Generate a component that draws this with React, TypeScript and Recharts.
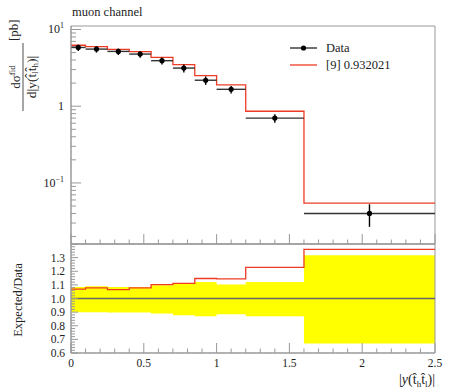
import React from "react";
import {
  Area,
  ComposedChart,
  ErrorBar,
  Line,
  ReferenceArea,
  ReferenceLine,
  Scatter,
  XAxis,
  YAxis,
} from "recharts";

// bins of |y(t_h t_l)|
const binEdges = [0, 0.1, 0.25, 0.4, 0.55, 0.7, 0.85, 1.0, 1.2, 1.6, 2.5];
const dataValues = [5.83, 5.55, 5.18, 4.78, 3.92, 3.14, 2.18, 1.66, 0.7, 0.04];
const predValues = [6.23, 5.98, 5.52, 5.15, 4.32, 3.49, 2.5, 1.9, 0.86, 0.0544];
const relErrDown = [0.1, 0.1, 0.103, 0.103, 0.11, 0.123, 0.13, 0.115, 0.13, 0.33];
const relErrUp = [0.085, 0.09, 0.085, 0.085, 0.098, 0.11, 0.122, 0.103, 0.122, 0.318];

const xMajorTicks = [0, 0.5, 1, 1.5, 2, 2.5];
const xTickLabels = ["0", "0.5", "1", "1.5", "2", "2.5"];
const logMajorTicks = [0.1, 1, 10];
const logMinorTicks = [
  0.02, 0.03, 0.04, 0.05, 0.06, 0.07, 0.08, 0.09,
  0.2, 0.3, 0.4, 0.5, 0.6, 0.7, 0.8, 0.9,
  2, 3, 4, 5, 6, 7, 8, 9,
];
const ratioMajorTicks = [0.6, 0.7, 0.8, 0.9, 1.0, 1.1, 1.2, 1.3];
const ratioTickLabels = ["0.6", "0.7", "0.8", "0.9", "1.0", "1.1", "1.2", "1.3"];
const legendLabels = ["Data", "[9] 0.932021"];

const RED = "#ef3b24";
const FRAME = "#999";
const FONT = "'Liberation Serif', 'DejaVu Serif', serif";
const INK = "#222";

const topDomain: [number, number] = [0.016, 11.1];
const ratioDomain: [number, number] = [0.6, 1.4];
const xDomain: [number, number] = [0, 2.5];

// plot geometry used only to turn tick lengths (px) into data units
const PLOT_W = 364;
const PLOT_H = 218;
const xPerPx = (xDomain[1] - xDomain[0]) / PLOT_W;
const decadesPerPx = Math.log10(topDomain[1] / topDomain[0]) / PLOT_H;

const xTicks: number[] = [];
for (let i = 0; i <= 25; i++) xTicks.push(Math.round(i * 10) / 100);
const xMinorTicks = xTicks.filter((t) => !xMajorTicks.some((m) => Math.abs(m - t) < 1e-6));
const ratioTicks: number[] = [];
for (let i = 0; i <= 40; i++) ratioTicks.push(+(0.6 + i * 0.02).toFixed(2));

const predRows = binEdges.map((x, i) => ({ x, pred: predValues[Math.min(i, predValues.length - 1)] }));

const pointRows = dataValues.map((v, i) => {
  const lo = binEdges[i];
  const hi = binEdges[i + 1];
  const c = (lo + hi) / 2;
  return {
    x: c,
    y: v,
    ex: [c - lo, hi - c],
    ey: [v * relErrDown[i], v * relErrUp[i]],
  };
});

const ratioRows = binEdges.map((x, i) => {
  const k = Math.min(i, dataValues.length - 1);
  return {
    x,
    band: [1 - relErrDown[k], 1 + relErrUp[k]],
    ratio: predValues[k] / dataValues[k],
    one: 1,
  };
});

const near = (a: number, b: number) => Math.abs(a - b) < 1e-6;
const textStyle = { fontFamily: FONT };

function BottomTick(props: any) {
  const { x, y, payload } = props;
  const v = payload.value;
  const idx = xMajorTicks.findIndex((m) => near(m, v));
  const major = idx >= 0;
  return (
    <g>
      <line x1={x} x2={x} y1={y} y2={y - (major ? 10 : 4.5)} stroke={FRAME} strokeWidth={1} />
      {major ? (
        <text x={x} y={y + 14} textAnchor="middle" fontSize={11.5} style={textStyle} fill={INK}>
          {xTickLabels[idx]}
        </text>
      ) : null}
    </g>
  );
}

function LogLabel(props: any) {
  const { x, y, payload } = props;
  const v = payload.value;
  let label: React.ReactNode;
  if (near(v, 1)) label = "1";
  else if (near(v, 10))
    label = (
      <>
        10<tspan dy={-5} fontSize={8}>1</tspan>
      </>
    );
  else
    label = (
      <>
        10<tspan dy={-5} fontSize={8}>−1</tspan>
      </>
    );
  return (
    <text x={x - 7} y={y + 4} textAnchor="end" fontSize={12} style={textStyle} fill={INK}>
      {label}
    </text>
  );
}

function RatioTick(props: any) {
  const { x, y, payload } = props;
  const v = payload.value;
  const idx = ratioMajorTicks.findIndex((m) => near(m, v));
  const major = idx >= 0 || near(v, 1.4);
  return (
    <g>
      <line x1={x} x2={x + (major ? 7 : 4)} y1={y} y2={y} stroke={FRAME} strokeWidth={1} />
      {idx >= 0 ? (
        <text x={x - 6} y={y + 4} textAnchor="end" fontSize={11.5} style={textStyle} fill={INK}>
          {ratioTickLabels[idx]}
        </text>
      ) : null}
    </g>
  );
}

const DataDot = (props: any) => <circle cx={props.cx} cy={props.cy} r={2.6} fill="#000" />;

const topMargin = { top: 26, right: 15, left: 0, bottom: 0 };
const layer: React.CSSProperties = { position: "absolute", left: 0, top: 0 };

// tick marks of the main panel, drawn inward through the chart scales
function yTickSeg(v: number, px: number) {
  return [
    { x: xDomain[0], y: v },
    { x: xDomain[0] + px * xPerPx, y: v },
  ];
}
function xTickSeg(t: number, px: number) {
  return [
    { x: t, y: topDomain[0] },
    { x: t, y: topDomain[0] * Math.pow(10, px * decadesPerPx) },
  ];
}

export default function App() {
  return (
    <div style={{ position: "absolute", left: 0, top: 0, width: 450, height: 390, background: "#fff", fontFamily: FONT }}>
      {/* ratio panel */}
      <div style={{ position: "absolute", left: 0, top: 240 }}>
        <ComposedChart width={450} height={150} data={ratioRows} margin={{ top: 4, right: 15, left: 0, bottom: 0 }}>
          <XAxis
            type="number"
            dataKey="x"
            domain={xDomain}
            ticks={xTicks}
            interval={0}
            height={37}
            tickSize={0}
            tickMargin={0}
            tickLine={false}
            axisLine={{ stroke: FRAME }}
            tick={<BottomTick />}
            allowDataOverflow
          />
          <YAxis
            type="number"
            domain={ratioDomain}
            ticks={ratioTicks}
            interval={0}
            width={71}
            tickSize={0}
            tickMargin={0}
            tickLine={false}
            axisLine={{ stroke: FRAME }}
            tick={<RatioTick />}
            allowDataOverflow
          />
          <Area dataKey="band" type="stepAfter" fill="#ffff00" fillOpacity={1} stroke="none" isAnimationActive={false} />
          <Line dataKey="one" type="linear" stroke="#666" strokeWidth={1.3} dot={false} isAnimationActive={false} />
          <Line dataKey="ratio" type="stepAfter" stroke={RED} strokeWidth={1.3} dot={false} isAnimationActive={false} />
          <ReferenceArea x1={0} x2={2.5} y1={ratioDomain[0]} y2={ratioDomain[1]} fill="none" stroke={FRAME} strokeWidth={1} ifOverflow="visible" />
        </ComposedChart>
      </div>

      {/* main panel */}
      <div style={layer}>
        <ComposedChart width={450} height={250} data={predRows} margin={topMargin}>
          <XAxis
            type="number"
            dataKey="x"
            domain={xDomain}
            height={6}
            tick={false}
            tickLine={false}
            axisLine={{ stroke: FRAME }}
            allowDataOverflow
          />
          <YAxis
            type="number"
            scale="log"
            domain={topDomain}
            ticks={logMajorTicks}
            interval={0}
            width={71}
            tickSize={0}
            tickMargin={0}
            tickLine={false}
            axisLine={{ stroke: FRAME }}
            tick={<LogLabel />}
            allowDataOverflow
          />
          {logMinorTicks.map((v) => (
            <ReferenceLine key={`ym${v}`} segment={yTickSeg(v, 5)} stroke={FRAME} strokeWidth={1} ifOverflow="visible" />
          ))}
          {logMajorTicks.map((v) => (
            <ReferenceLine key={`yM${v}`} segment={yTickSeg(v, 10)} stroke={FRAME} strokeWidth={1} ifOverflow="visible" />
          ))}
          {xMinorTicks.map((t) => (
            <ReferenceLine key={`xm${t}`} segment={xTickSeg(t, 4.5)} stroke={FRAME} strokeWidth={1} ifOverflow="visible" />
          ))}
          {xMajorTicks.map((t) => (
            <ReferenceLine key={`xM${t}`} segment={xTickSeg(t, 10)} stroke={FRAME} strokeWidth={1} ifOverflow="visible" />
          ))}
          <Line dataKey="pred" type="stepAfter" stroke={RED} strokeWidth={1.3} dot={false} isAnimationActive={false} />
          <Scatter data={pointRows} dataKey="y" shape={<DataDot />} isAnimationActive={false}>
            <ErrorBar dataKey="ex" direction="x" width={0} stroke="#333" strokeWidth={1.4} isAnimationActive={false} />
            <ErrorBar dataKey="ey" direction="y" width={0} stroke="#000" strokeWidth={1.4} isAnimationActive={false} />
          </Scatter>
          <ReferenceArea x1={0} x2={2.5} y1={topDomain[0]} y2={topDomain[1]} fill="none" stroke={FRAME} strokeWidth={1} ifOverflow="visible" />
        </ComposedChart>
      </div>

      <svg width={450} height={390} style={{ position: "absolute", left: 0, top: 0, pointerEvents: "none", fontFamily: FONT }}>
        <text x={72} y={16} fontSize={12.5} fill={INK}>
          muon channel
        </text>

        {/* legend */}
        <g>
          <line x1={290} x2={317} y1={48} y2={48} stroke={INK} strokeWidth={1.3} />
          <circle cx={303.5} cy={48} r={2.6} fill="#000" />
          <text x={326} y={52} fontSize={12.5} fill={INK}>
            {legendLabels[0]}
          </text>
          <line x1={290} x2={317} y1={65} y2={65} stroke={RED} strokeWidth={1.3} />
          <text x={326} y={69} fontSize={12.5} fill={INK}>
            {legendLabels[1]}
          </text>
        </g>

        <g transform="translate(23, 77) rotate(-90)" fill={INK}>
          <text x={0} y={-3.5} textAnchor="middle" fontSize={13}>
            dσ<tspan dy={-5} fontSize={9}>fid</tspan>
          </text>
          <line x1={-34} x2={34} y1={0} y2={0} stroke={INK} strokeWidth={0.8} />
          <text x={0} y={12.5} textAnchor="middle" fontSize={13.5}>
            d|y(t̂<tspan dy={2.5} fontSize={9}>l</tspan>
            <tspan dy={-2.5}>t̂</tspan>
            <tspan dy={2.5} fontSize={9}>h</tspan>
            <tspan dy={-2.5}>)|</tspan>
          </text>
          <text x={36} y={-5} fontSize={13}>
            [pb]
          </text>
        </g>
        <text transform="translate(22, 300) rotate(-90)" textAnchor="middle" fontSize={12.5} fill={INK}>
          Expected/Data
        </text>
        <text x={435} y={384} textAnchor="end" fontSize={14} fill={INK}>
          |<tspan fontStyle="italic">y</tspan>(t̂<tspan dy={2.5} fontSize={9}>h</tspan>
          <tspan dy={-2.5}>t̂</tspan>
          <tspan dy={2.5} fontSize={9}>l</tspan>
          <tspan dy={-2.5}>)|</tspan>
        </text>
      </svg>
    </div>
  );
}
